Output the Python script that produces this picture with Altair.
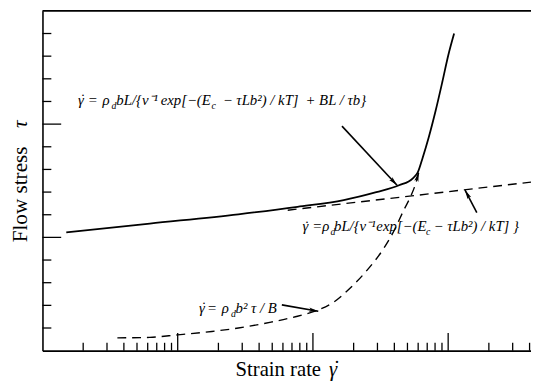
import altair as alt
import pandas as pd

# ---- data (strain rate: log scale, stress: linear units) ----
solid_rate = [1.5, 6.22, 28.1, 76.9, 169, 294, 433, 548, 596, 648, 716, 806, 906, 1002, 1107]
solid_stress = [5.22, 5.61, 6.02, 6.35, 6.65, 7.0, 7.30, 7.61, 7.87, 8.52, 9.39, 10.57, 11.87, 13.04, 14.0]

thermal_rate = [65.1, 4098]
thermal_stress = [6.2, 7.44]

drag_rate = [3.58, 6.22, 9.95, 17.9, 28.1, 49.0, 76.9, 108, 143, 187, 249, 331, 392, 471, 530, 576, 606]
drag_stress = [0.565, 0.587, 0.696, 0.848, 1.0, 1.26, 1.52, 1.78, 2.15, 2.74, 3.52, 4.48, 5.22, 6.22, 6.83, 7.39, 7.87]

x_minor = [m * d for d in [1, 10, 100, 1000] for m in range(2, 10) if m * d <= 4098]
x_major = [10, 100, 1000]
y_minor = [v for v in range(1, 15) if v not in (5, 10)]
y_major = [5, 10]

# annotation formulas, split into pieces (main text / subscripts / dots)
main_rate = [1.83, 2.163, 2.782, 3.518, 7.482, 21.52, 88.05,
             83.7, 99.0, 117.1, 143.2, 294.4, 778.9,
             14.39, 16.46, 21.16, 26.76]
main_stress = [10.83] * 7 + [5.26] * 6 + [1.65] * 4
main_text = ["γ", "=", "ρ", "bL/{ν⁻¹", "exp[−(E", "− τLb²) / kT]", "+ BL / τb}",
             "γ", "=", "ρ", "bL/{ν⁻¹", "exp[−(E", "− τLb²) / kT] }",
             "γ", "=", "ρ", "b² τ / B"]
sub_rate = [3.234, 17.75, 135.0, 686.9, 24.82]
sub_stress = [10.83, 10.83, 5.26, 5.26, 1.65]
sub_text = ["d", "c", "d", "c", "d"]
dot_rate = [1.907, 86.55, 15.01]
dot_stress = [10.83, 5.26, 1.65]

# annotation arrows: tail -> head
arrow_rate = [164, 1629, 58.9]
arrow_stress = [9.91, 6.09, 2.02]
arrow_rate2 = [419, 1333, 109.5]
arrow_stress2 = [7.30, 7.09, 1.74]
head_rate = [419, 1333, 109.5, 606]
head_stress = [7.30, 7.09, 1.74, 7.87]
head_angle = [137, 332, 100, 15]

# ---- chart ----
xs = alt.Scale(type="log", domain=[1, 4098], nice=False)
ys = alt.Scale(domain=[0, 15], nice=False)
xa = alt.Axis(title=None, ticks=False, labels=False, grid=False, domainColor="black", domainWidth=1.6)
ya = alt.Axis(title=None, ticks=False, labels=False, grid=False, domainColor="black", domainWidth=1.6)
serif = "Liberation Serif"


def X(f):
    return alt.X(f, scale=xs, axis=xa)


def Y(f):
    return alt.Y(f, scale=ys, axis=ya)


solid_df = pd.DataFrame({"rate": solid_rate, "stress": solid_stress})
thermal_df = pd.DataFrame({"rate": thermal_rate, "stress": thermal_stress})
drag_df = pd.DataFrame({"rate": drag_rate, "stress": drag_stress})

solid = alt.Chart(solid_df).mark_line(color="black", strokeWidth=1.8, interpolate="monotone").encode(
    x=X("rate:Q"), y=Y("stress:Q"))
thermal = alt.Chart(thermal_df).mark_line(color="black", strokeWidth=1.4, strokeDash=[9, 6]).encode(
    x=X("rate:Q"), y=Y("stress:Q"))
drag = alt.Chart(drag_df).mark_line(color="black", strokeWidth=1.4, strokeDash=[9, 6],
                                     interpolate="monotone").encode(x=X("rate:Q"), y=Y("stress:Q"))

top = alt.Chart(pd.DataFrame({"stress": [15]})).mark_rule(color="black", strokeWidth=1.6).encode(
    y=Y("stress:Q"))

xminor = alt.Chart(pd.DataFrame({"rate": x_minor})).mark_rule(color="black", strokeWidth=1.3).encode(
    x=X("rate:Q"), y=alt.value(345), y2=alt.value(337))
xmajor = alt.Chart(pd.DataFrame({"rate": x_major})).mark_rule(color="black", strokeWidth=1.3).encode(
    x=X("rate:Q"), y=alt.value(345), y2=alt.value(327))
yminor = alt.Chart(pd.DataFrame({"stress": y_minor})).mark_rule(color="black", strokeWidth=1.3).encode(
    y=Y("stress:Q"), x=alt.value(0), x2=alt.value(9))
ymajor = alt.Chart(pd.DataFrame({"stress": y_major})).mark_rule(color="black", strokeWidth=1.3).encode(
    y=Y("stress:Q"), x=alt.value(0), x2=alt.value(19))

main_df = pd.DataFrame({"rate": main_rate, "stress": main_stress, "t": main_text})
sub_df = pd.DataFrame({"rate": sub_rate, "stress": sub_stress, "t": sub_text})
dot_df = pd.DataFrame({"rate": dot_rate, "stress": dot_stress, "t": ["˙"] * 3})
texts = alt.Chart(main_df).mark_text(align="left", baseline="alphabetic", font=serif,
                                      fontStyle="italic", fontSize=15, color="black").encode(
    x=X("rate:Q"), y=Y("stress:Q"), text="t:N")
subs = alt.Chart(sub_df).mark_text(align="left", baseline="alphabetic", font=serif,
                                    fontStyle="italic", fontSize=10, dy=4, color="black").encode(
    x=X("rate:Q"), y=Y("stress:Q"), text="t:N")
dots = alt.Chart(dot_df).mark_text(align="left", baseline="alphabetic", font=serif,
                                    fontSize=15, dy=-1, color="black").encode(
    x=X("rate:Q"), y=Y("stress:Q"), text="t:N")

arrow_df = pd.DataFrame({"rate": arrow_rate, "stress": arrow_stress, "r2": arrow_rate2, "s2": arrow_stress2})
arrows = alt.Chart(arrow_df).mark_rule(color="black", strokeWidth=1.6).encode(
    x=X("rate:Q"), y=Y("stress:Q"), x2="r2:Q", y2="s2:Q")

head_df = pd.DataFrame({"rate": head_rate, "stress": head_stress, "a": head_angle})
heads = alt.Chart(head_df).mark_point(shape="M0,0L-0.45,2L0,1.55L0.45,2Z", filled=True,
                                       color="black", size=90, opacity=1).encode(
    x=X("rate:Q"), y=Y("stress:Q"), angle=alt.Angle("a:Q", scale=None))

# axis titles (set as text so the dotted gamma can be drawn)
xt1 = alt.Chart(pd.DataFrame({"t": ["Strain rate"]})).mark_text(
    align="left", baseline="alphabetic", font=serif, fontSize=21, color="black").encode(
    x=alt.value(196), y=alt.value(371), text="t:N")
xt2 = alt.Chart(pd.DataFrame({"t": ["γ"]})).mark_text(
    align="left", baseline="alphabetic", font=serif, fontStyle="italic", fontSize=21,
    color="black").encode(x=alt.value(291), y=alt.value(371), text="t:N")
xt3 = alt.Chart(pd.DataFrame({"t": ["˙"]})).mark_text(
    align="left", baseline="alphabetic", font=serif, fontSize=21, color="black").encode(
    x=alt.value(295.5), y=alt.value(370), text="t:N")
yt1 = alt.Chart(pd.DataFrame({"t": ["Flow stress"]})).mark_text(
    align="left", baseline="alphabetic", font=serif, fontSize=21.5, angle=270, color="black").encode(
    x=alt.value(-16), y=alt.value(235), text="t:N")
yt2 = alt.Chart(pd.DataFrame({"t": ["τ"]})).mark_text(
    align="left", baseline="alphabetic", font=serif, fontStyle="italic", fontSize=21.5, angle=270,
    color="black").encode(x=alt.value(-16), y=alt.value(119), text="t:N")

chart = alt.layer(solid, thermal, drag, top, xminor, xmajor, yminor, ymajor,
                  texts, subs, dots, arrows, heads, xt1, xt2, xt3, yt1, yt2).properties(
    width=496, height=345, autosize="none",
    padding={"left": 35, "top": 0, "right": 0, "bottom": 34},
    background="white",
).configure_view(stroke=None)

chart.save("out.html", embed_options={"renderer": "svg", "actions": False})
